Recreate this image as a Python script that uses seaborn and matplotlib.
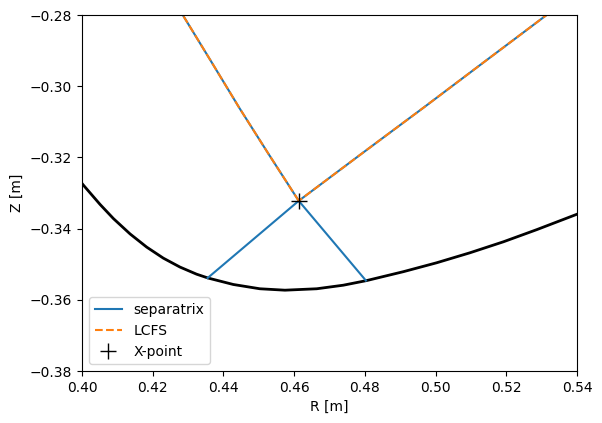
"""Divertor region: separatrix, LCFS and X-point against the first wall."""

import matplotlib

matplotlib.use("Agg")
import matplotlib.pyplot as plt
import pandas as pd
import seaborn as sns

# first wall contour (R, Z) in metres
wall_r = [0.3950, 0.4004, 0.4051, 0.4089, 0.4136, 0.4183, 0.4230, 0.4277,
          0.4324, 0.4357, 0.4428, 0.4503, 0.4574, 0.4664, 0.4739, 0.4805,
          0.4909, 0.5003, 0.5097, 0.5192, 0.5286, 0.5399, 0.5450]
wall_z = [-0.3212, -0.3278, -0.3332, -0.3372, -0.3415, -0.3452, -0.3483,
          -0.3508, -0.3528, -0.3539, -0.3557, -0.3569, -0.3573, -0.3569,
          -0.3559, -0.3546, -0.3521, -0.3496, -0.3468, -0.3437, -0.3403,
          -0.3360, -0.3340]

# X-point
xpt_r = 0.4613
xpt_z = -0.3322

# core boundary: from X-point up the left side, over the top, down the right
core_r = [0.4613, 0.4528, 0.4445, 0.4365, 0.4285, 0.4238, 0.4800,
          0.5439, 0.5314, 0.5140, 0.4965, 0.4789, 0.4613]
core_z = [-0.3322, -0.3191, -0.3061, -0.2930, -0.2800, -0.2700, -0.2000,
          -0.2700, -0.2800, -0.2930, -0.3061, -0.3191, -0.3322]

# divertor legs: strike points on the wall
leg_left_r, leg_left_z = 0.4355, -0.3539
leg_right_r, leg_right_z = 0.4803, -0.3546

sep_df = pd.DataFrame({
    "R": [leg_left_r] + core_r + [leg_right_r],
    "Z": [leg_left_z] + core_z + [leg_right_z],
})
lcfs_df = pd.DataFrame({"R": core_r, "Z": core_z})
wall_df = pd.DataFrame({"R": wall_r, "Z": wall_z})

fig = plt.figure(figsize=(6.02, 4.23), dpi=100)
ax = fig.add_axes([82 / 602, 52 / 423, 495 / 602, 356 / 423])

sns.lineplot(data=wall_df, x="R", y="Z", sort=False, estimator=None,
             color="black", linewidth=2, ax=ax)
sns.lineplot(data=sep_df, x="R", y="Z", sort=False, estimator=None,
             color="C0", linewidth=1.5, label="separatrix", ax=ax)
sns.lineplot(data=lcfs_df, x="R", y="Z", sort=False, estimator=None,
             color="C1", linewidth=1.5, linestyle="--", label="LCFS", ax=ax)
ax.plot([xpt_r], [xpt_z], linestyle="none", marker="+", markersize=11,
        color="black", label="X-point", zorder=4)

ax.set_xlim(0.40, 0.54)
ax.set_ylim(-0.38, -0.28)
ax.set_xticks([0.40, 0.42, 0.44, 0.46, 0.48, 0.50, 0.52, 0.54])
ax.set_yticks([-0.38, -0.36, -0.34, -0.32, -0.30, -0.28])
ax.set_xlabel("R [m]")
ax.set_ylabel("Z [m]")
ax.legend(loc="lower left")

fig.savefig("out.png", dpi=100)
plt.close(fig)
